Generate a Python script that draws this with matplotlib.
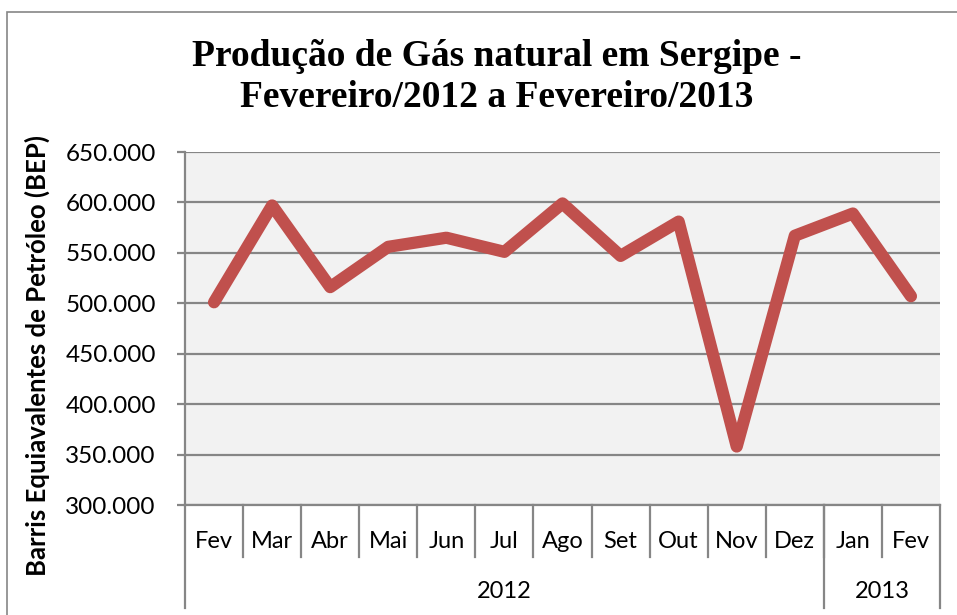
import matplotlib
matplotlib.use('Agg')
import matplotlib.pyplot as plt
import matplotlib.transforms as mtransforms
from matplotlib.patches import Rectangle
from matplotlib.ticker import FuncFormatter

meses = ['Fev', 'Mar', 'Abr', 'Mai', 'Jun', 'Jul', 'Ago', 'Set', 'Out', 'Nov', 'Dez', 'Jan', 'Fev']
anos = ['2012'] * 11 + ['2013'] * 2
producao = [501000, 597000, 516000, 556000, 565000, 551000, 599000,
            547000, 581000, 358000, 567000, 589000, 507000]

W, H = 957, 615
fig = plt.figure(figsize=(W / 100, H / 100), dpi=100)
fig.patch.set_facecolor('white')

# moldura do grafico (cortada a direita/em baixo)
fig.patches.append(Rectangle((7 / W, -0.05), 1.2, 1.05 - 12 / H, transform=fig.transFigure,
                             fill=False, edgecolor='#868686', lw=1.2))

ax = fig.add_axes([185 / W, 1 - 505 / H, (940 - 185) / W, (505 - 152) / H])
ax.set_facecolor('#f2f2f2')

x = list(range(len(meses)))
ax.plot(x, producao, color='#c0504d', lw=8.8, solid_capstyle='round', solid_joinstyle='round', zorder=3)

ax.set_xlim(-0.5, len(meses) - 0.5)
ax.set_ylim(300000, 650000)
ax.set_yticks(range(300000, 650001, 50000))
ax.yaxis.set_major_formatter(FuncFormatter(lambda v, p: '{:,.0f}'.format(v).replace(',', '.')))
ax.grid(axis='y', color='#868686', lw=1.6, zorder=1)
ax.set_axisbelow(True)
ax.set_xticks([])
for s in ['top', 'right']:
    ax.spines[s].set_visible(False)
ax.spines['left'].set_color('#868686')
ax.spines['left'].set_linewidth(1.6)
ax.spines['bottom'].set_color('#868686')
ax.spines['bottom'].set_linewidth(1.6)
ax.tick_params(axis='y', length=6, width=1.6, color='#868686', labelsize=17.5, pad=15)
for t in ax.get_yticklabels():
    t.set_fontfamily('Lato')

# eixo de categorias em dois niveis
trans = mtransforms.blended_transform_factory(ax.transData, fig.transFigure)
y_top = 1 - 505 / H
y_mes = 1 - 557 / H
y_ano = 1 - 608 / H
for i, m in enumerate(meses):
    ax.text(i, 1 - 541 / H, m, transform=trans, ha='center', va='center', fontsize=17,
            fontfamily='Lato', color='black')
for i in range(len(meses) - 1):
    ax.plot([i + 0.5, i + 0.5], [y_top, y_mes], transform=trans, color='#868686', lw=1.6, clip_on=False)

grupos = []
for i, a in enumerate(anos):
    if grupos and grupos[-1][0] == a:
        grupos[-1][2] = i
    else:
        grupos.append([a, i, i])
bordas = [-0.5] + [g[2] + 0.5 for g in grupos]
for b in bordas:
    ax.plot([b, b], [y_top, y_ano], transform=trans, color='#868686', lw=1.6, clip_on=False)
for a, i0, i1 in grupos:
    ax.text((i0 + i1) / 2, 1 - 591 / H, a, transform=trans, ha='center', va='center', fontsize=17,
            fontfamily='Lato', color='black')

fig.text(497 / W, 1 - 77 / H, 'Produção de Gás natural em Sergipe -\nFevereiro/2012 a Fevereiro/2013',
         ha='center', va='center', fontsize=27, fontweight='bold', fontfamily='Liberation Serif',
         linespacing=1.22)
fig.text(37 / W, 1 - 356 / H, 'Barris Equiavalentes de Petróleo (BEP)', rotation=90,
         ha='center', va='center', fontsize=18.5, fontweight='bold', fontfamily='Lato')

fig.savefig('out.png', dpi=100)
